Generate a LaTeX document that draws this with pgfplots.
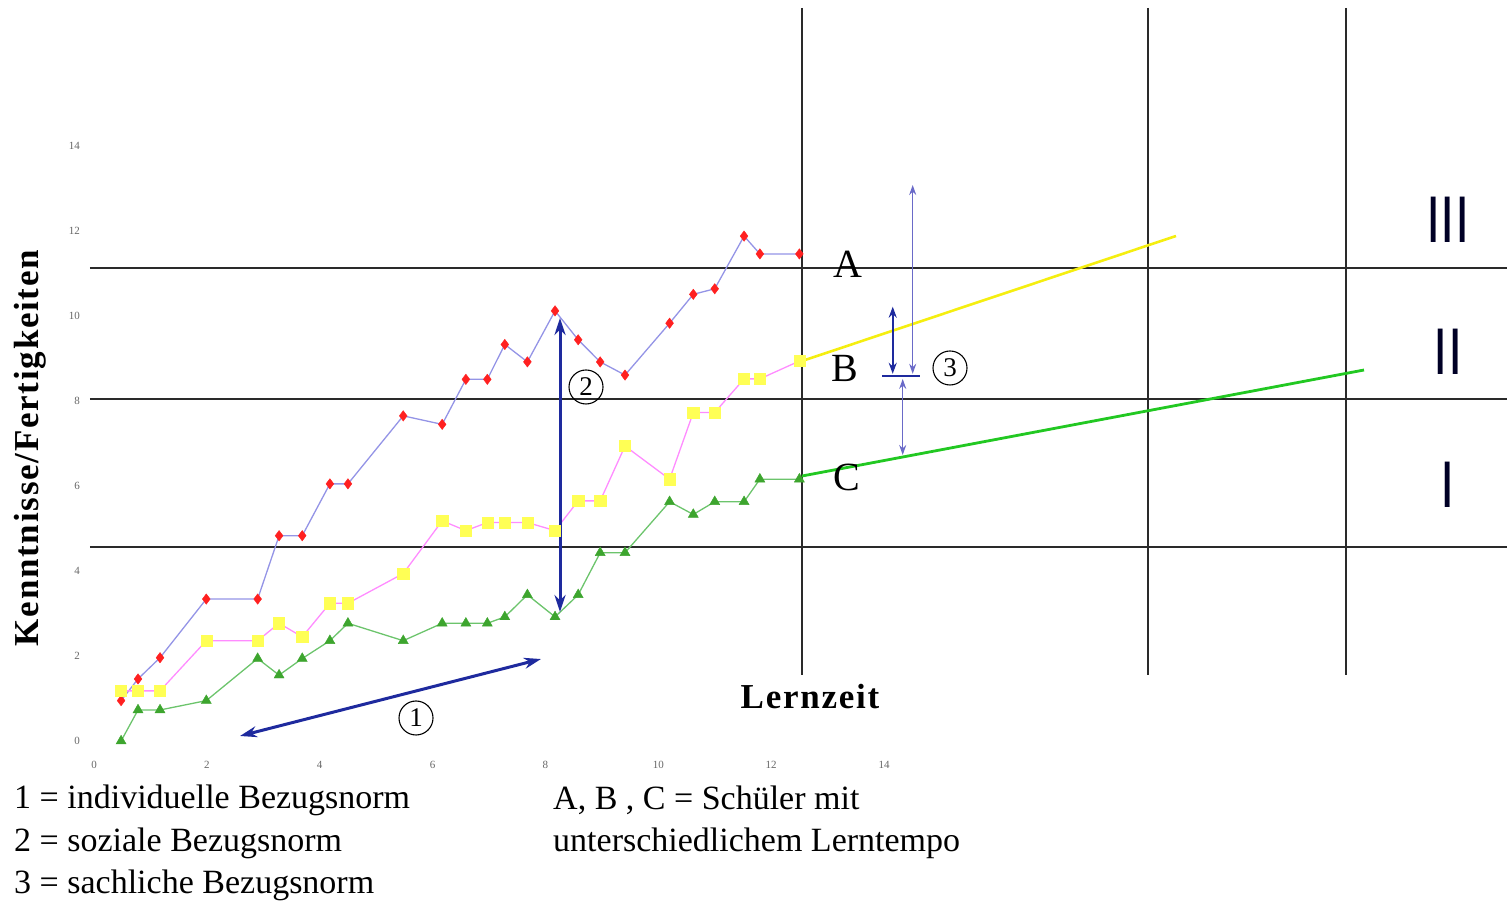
\documentclass[border=0pt]{standalone}
\usepackage{fontspec}
\setmainfont{Liberation Serif}
\newfontfamily\sansf{Liberation Sans}
\newfontfamily\spacedbf[LetterSpace=5]{Liberation Serif}
\usepackage{pgfplots}
\pgfplotsset{compat=1.18}
\usetikzlibrary{arrows.meta}
\definecolor{mred}{HTML}{FF2020}
\definecolor{myel}{HTML}{FFFF55}
\definecolor{mgreen}{HTML}{3DA52E}
\definecolor{lblue}{HTML}{9494E6}
\definecolor{lpink}{HTML}{FF8CFF}
\definecolor{lgreen}{HTML}{6CC46C}
\definecolor{xyel}{HTML}{F5EE10}
\definecolor{xgreen}{HTML}{22C822}
\definecolor{navy}{HTML}{1E2A9E}
\definecolor{thinblue}{HTML}{6A6AC8}
\definecolor{guide}{HTML}{2A2A2A}
\pgfplotstableread{
x     a      b      c
0.48  0.95   1.18   0.00
0.78  1.46   1.18   0.73
1.17  1.96   1.18   0.73
1.99  3.34   2.36   0.95
2.90  3.34   2.36   1.94
3.28  4.83   2.77   1.55
3.69  4.83   2.45   1.94
4.18  6.05   3.24   2.36
4.50  6.05   3.24   2.77
5.48  7.65   3.94   2.36
6.17  7.45   5.18   2.77
6.59  8.51   4.95   2.77
6.97  8.51   5.14   2.77
7.28  9.33   5.14   2.92
7.68  8.92   5.14   3.44
8.17  10.12  4.95   2.92
8.58  9.44   5.65   3.44
8.97  8.92   5.65   4.43
9.41  8.61   6.94   4.43
10.20 9.83   6.16   5.63
10.62 10.51  7.73   5.33
11.00 10.64  7.73   5.63
11.52 11.88  8.52   5.63
11.80 11.46  8.52   6.16
12.50 11.46  8.94   6.16
}\datatable
\begin{document}
\begin{tikzpicture}
\begin{axis}[scale only axis, width=1507pt, height=902pt,
  xmin=-1.6658, xmax=25.040, ymin=-3.788, ymax=17.435,
  axis lines=none, clip=false]
% guide lines
\addplot[guide, line width=1.8pt, no marks] coordinates {(-0.071,11.13) (25.04,11.13)};
\addplot[guide, line width=1.8pt, no marks] coordinates {(-0.071,8.047) (25.04,8.047)};
\addplot[guide, line width=1.8pt, no marks] coordinates {(-0.071,4.565) (25.04,4.565)};
\addplot[guide, line width=1.8pt, no marks] coordinates {(12.547,17.247) (12.547,1.553)};
\addplot[guide, line width=1.8pt, no marks] coordinates {(18.678,17.247) (18.678,1.553)};
\addplot[guide, line width=1.8pt, no marks] coordinates {(22.187,17.247) (22.187,1.553)};
% extension lines
\addplot[xyel, line width=2.6pt, no marks] coordinates {(12.547,8.941) (19.174,11.882)};
\addplot[xgreen, line width=2.8pt, no marks] coordinates {(12.547,6.235) (22.506,8.729)};
% series
\addplot[lblue, line width=1.3pt, mark=diamond*, mark size=5.2pt, mark options={mred, draw=mred, line width=0.4pt}] table[x=x,y=a] {\datatable};
\addplot[lpink, line width=1.3pt, mark=square*, mark size=5.6pt, mark options={myel, draw=myel, line width=0.4pt}] table[x=x,y=b] {\datatable};
\addplot[lgreen, line width=1.3pt, mark=triangle*, mark size=5.8pt, mark options={mgreen, draw=mgreen, line width=0.4pt}] table[x=x,y=c] {\datatable};
% arrows
\draw[navy, line width=3pt, {Stealth[length=17pt,width=11pt]}-{Stealth[length=17pt,width=11pt]}] (axis cs:2.587,0.118) -- (axis cs:7.921,1.929);
\draw[navy, line width=3pt, {Stealth[length=17pt,width=11pt]}-{Stealth[length=17pt,width=11pt]}] (axis cs:8.258,9.953) -- (axis cs:8.258,3.035);
\draw[navy, line width=2.6pt] (axis cs:13.964,8.588) -- (axis cs:14.638,8.588);
\draw[navy, line width=2pt, {Stealth[length=11pt,width=8pt]}-{Stealth[length=11pt,width=8pt]}] (axis cs:14.154,10.219) -- (axis cs:14.154,8.64);
\draw[thinblue, line width=1.3pt, {Stealth[length=10pt,width=7pt]}-{Stealth[length=10pt,width=7pt]}] (axis cs:14.508,13.082) -- (axis cs:14.508,8.64);
\draw[thinblue, line width=1.3pt, {Stealth[length=10pt,width=7pt]}-{Stealth[length=10pt,width=7pt]}] (axis cs:14.331,8.52) -- (axis cs:14.331,6.729);
% tick labels
\pgfplotsinvokeforeach{0,2,4,6,8,10,12,14}{
  \node[font=\fontsize{11}{11}\selectfont, text=black!60, inner sep=0] at (axis cs:#1,0) [yshift=-24pt] {#1};
  \node[font=\fontsize{11}{11}\selectfont, text=black!60, inner sep=0, anchor=east] at (axis cs:0,#1) [xshift=-14pt] {#1};
}
\end{axis}
\pgfresetboundingbox
\path (0,0) rectangle (1507pt,902pt);
% labels
\node[font=\fontsize{40}{40}\selectfont, inner sep=0] at (848pt,638pt) {A};
\node[font=\fontsize{40}{40}\selectfont, inner sep=0] at (845pt,534pt) {B};
\node[font=\fontsize{40}{40}\selectfont, inner sep=0] at (847pt,425pt) {C};
\node[font=\sansf\fontsize{66}{66}\selectfont, text=black!85!blue, inner sep=0, xscale=0.78] at (1448pt,682pt) {III};
\node[font=\sansf\fontsize{66}{66}\selectfont, text=black!85!blue, inner sep=0, xscale=0.78] at (1448pt,550pt) {II};
\node[font=\sansf\fontsize{66}{66}\selectfont, text=black!85!blue, inner sep=0, xscale=0.78] at (1448pt,417pt) {I};
\node[font=\spacedbf\bfseries\fontsize{35}{35}\selectfont, inner sep=0] at (810pt,205pt) {Lernzeit};
\node[font=\spacedbf\bfseries\fontsize{35}{35}\selectfont, inner sep=0, rotate=90] at (30pt,454pt) {Kenntnisse/Fertigkeiten};
\node[circle, draw, line width=1.1pt, minimum size=34pt, inner sep=0, font=\fontsize{27}{27}\selectfont] at (416pt,184pt) {1};
\node[circle, draw, line width=1.1pt, minimum size=34pt, inner sep=0, font=\fontsize{27}{27}\selectfont] at (586pt,515pt) {2};
\node[circle, draw, line width=1.1pt, minimum size=34pt, inner sep=0, font=\fontsize{27}{27}\selectfont] at (950pt,534pt) {3};
\node[anchor=west, inner sep=0, font=\fontsize{34}{34}\selectfont] at (14pt,102pt) {1 = individuelle Bezugsnorm};
\node[anchor=west, inner sep=0, font=\fontsize{34}{34}\selectfont] at (14pt,59pt) {2 = soziale Bezugsnorm};
\node[anchor=west, inner sep=0, font=\fontsize{34}{34}\selectfont] at (14pt,17pt) {3 = sachliche Bezugsnorm};
\node[anchor=west, inner sep=0, font=\fontsize{34}{34}\selectfont] at (553pt,102pt) {A, B , C = Schüler mit};
\node[anchor=west, inner sep=0, font=\fontsize{34}{34}\selectfont] at (553pt,59pt) {unterschiedlichem Lerntempo};
\end{tikzpicture}
\end{document}
